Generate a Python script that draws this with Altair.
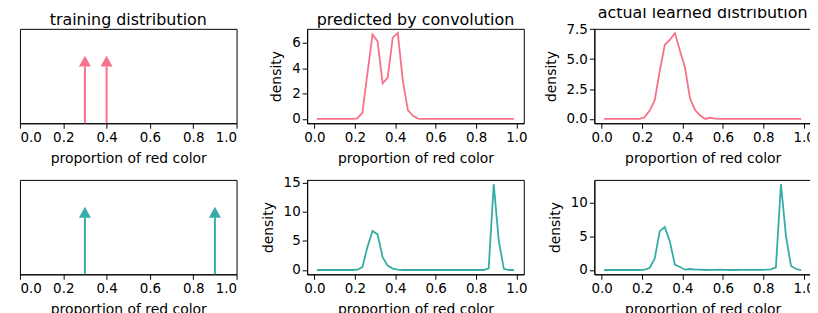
import altair as alt
import pandas as pd

# bin centres of the density curves
bin_centres = [round(0.0125 + 0.025 * i, 4) for i in range(40)]

pink = "#f77189"
teal = "#36ada4"

# training distributions (arrow positions)
train_a = [0.3, 0.4]
train_b = [0.3, 0.9]
arrow_height = 0.6

# predicted by convolution, case A (pink)
pred_a = [0, 0, 0, 0, 0, 0, 0, 0, 0.05, 0.5,
          3.6, 6.65, 6.1, 2.8, 3.25, 6.4, 6.75, 3.0, 0.7, 0.25,
          0.03, 0, 0, 0, 0, 0, 0, 0, 0, 0,
          0, 0, 0, 0, 0, 0, 0, 0, 0, 0]
# actual learned, case A (pink)
learn_a = [0, 0, 0, 0, 0, 0, 0, 0, 0.14, 0.7,
           1.55, 4.0, 6.2, 6.6, 7.17, 5.7, 4.3, 1.7, 0.75, 0.28,
           0.0, 0.1, 0.02, 0, 0, 0, 0, 0, 0, 0,
           0, 0, 0, 0, 0, 0, 0, 0, 0, 0]
# predicted by convolution, case B (teal)
pred_b = [0, 0, 0, 0, 0, 0, 0, 0, 0.05, 0.5,
          4.0, 6.7, 6.1, 2.2, 0.75, 0.25, 0.05, 0, 0, 0,
          0, 0, 0, 0, 0, 0, 0, 0, 0, 0,
          0, 0, 0, 0, 0.3, 14.7, 5.0, 0.2, 0, 0]
# actual learned, case B (teal)
learn_b = [0, 0, 0, 0, 0, 0, 0, 0, 0.05, 0.3,
           1.7, 5.8, 6.4, 4.25, 0.8, 0.45, 0.05, 0.15, 0.05, 0.05,
           0.0, 0.03, 0.02, 0.05, 0.02, 0.0, 0.0, 0.02, 0.03, 0.02,
           0.03, 0.02, 0.05, 0.1, 0.4, 12.8, 5.0, 0.6, 0.15, 0.0]

x_ticks = [0.0, 0.2, 0.4, 0.6, 0.8, 1.0]
W, H = 218, 95
XLAB = "proportion of red color"


def arrow_panel(xs, color, title=None):
    df = pd.DataFrame({"x": xs, "base": [0.0] * len(xs), "top": [arrow_height] * len(xs)})
    xenc = alt.X("x:Q", scale=alt.Scale(domain=[0, 1], nice=False, zero=False),
                 axis=alt.Axis(values=x_ticks, format=".1f", title=XLAB))
    yscale = alt.Scale(domain=[0, 1], nice=False, zero=False)
    shaft = alt.Chart(df).mark_rule(color=color, strokeWidth=2).encode(
        x=xenc, y=alt.Y("base:Q", scale=yscale, axis=None), y2="top:Q")
    head = alt.Chart(df).mark_point(shape="M0,-1L0.55,0L-0.55,0Z", filled=True,
                                    size=484, opacity=1, color=color).encode(
        x=xenc, y=alt.Y("top:Q", scale=yscale, axis=None))
    ch = alt.layer(shaft, head).properties(width=W, height=H)
    if title:
        ch = ch.properties(title=title)
    return ch


def density_panel(ys, color, yticks, yfmt, title=None):
    df = pd.DataFrame({"x": bin_centres, "y": ys})
    xr = max(bin_centres) - min(bin_centres)
    xdom = [min(bin_centres) - 0.05 * xr, max(bin_centres) + 0.05 * xr]
    yr = max(ys) - min(ys)
    ydom = [min(ys) - 0.05 * yr, max(ys) + 0.05 * yr]
    ch = alt.Chart(df).mark_line(color=color, strokeWidth=1.8).encode(
        x=alt.X("x:Q", scale=alt.Scale(domain=xdom, nice=False, zero=False),
                axis=alt.Axis(values=x_ticks, format=".1f", title=XLAB)),
        y=alt.Y("y:Q", scale=alt.Scale(domain=ydom, nice=False, zero=False),
                axis=alt.Axis(values=yticks, format=yfmt, title="density")),
    ).properties(width=W, height=H)
    if title:
        ch = ch.properties(title=title)
    return ch


p1 = arrow_panel(train_a, pink, "training distribution")
p2 = density_panel(pred_a, pink, [0, 2, 4, 6], "d", "predicted by convolution")
p3 = density_panel(learn_a, pink, [0, 2.5, 5, 7.5], ".1f", "actual learned distribution")
p4 = arrow_panel(train_b, teal)
p5 = density_panel(pred_b, teal, [0, 5, 10, 15], "d")
p6 = density_panel(learn_b, teal, [0, 5, 10], "d")

chart = alt.concat(p1, p2, p3, p4, p5, p6, columns=3,
                   spacing=alt.RowColnumber(row=57, column=71),
                   bounds="flush").properties(
    padding={"left": 11, "top": -5, "right": -5, "bottom": 0}
).configure_view(
    stroke="black", strokeWidth=1
).configure_axis(
    labelFont="DejaVu Sans", titleFont="DejaVu Sans",
    labelFontSize=13.5, titleFontSize=14, titleFontWeight="normal",
    labelColor="black", titleColor="black",
    domainColor="black", tickColor="black", tickSize=5, tickWidth=1,
    domainWidth=1, grid=False, labelPadding=2, titlePadding=8,
).configure_title(
    font="DejaVu Sans", fontSize=16, fontWeight="normal", color="black",
    offset=1, baseline="alphabetic", anchor="middle"
)

chart.save("out.html", embed_options={"renderer": "svg", "actions": False})
